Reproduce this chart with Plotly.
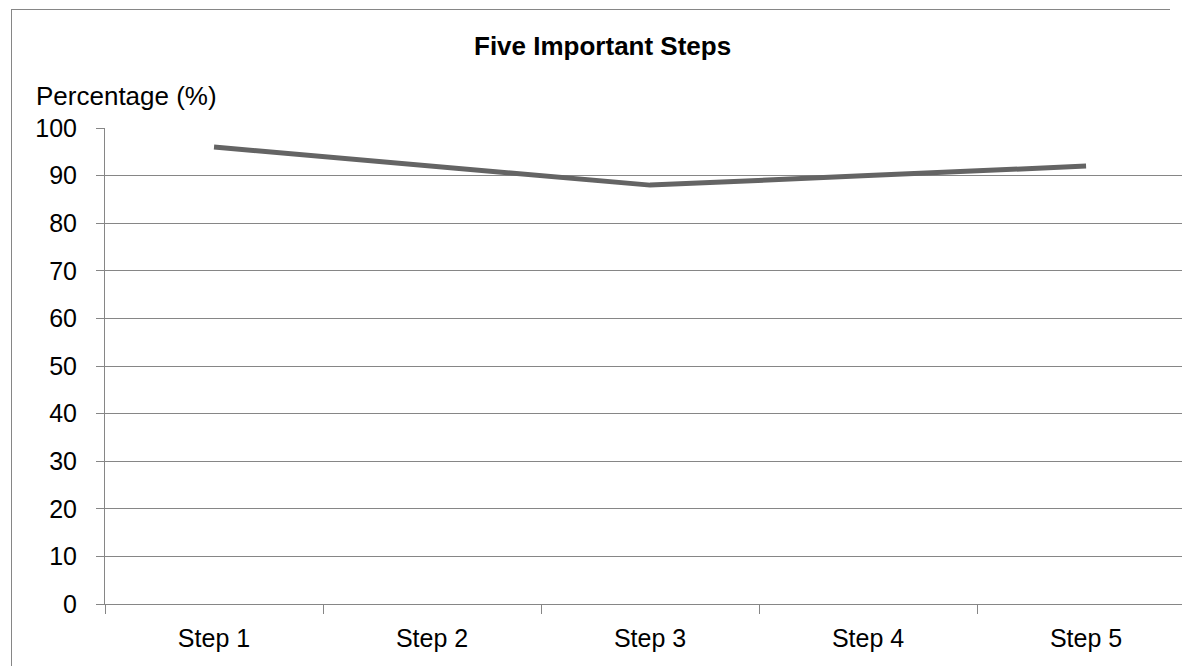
import plotly.graph_objects as go

# Chart data
steps = ["Step 1", "Step 2", "Step 3", "Step 4", "Step 5"]
percentages = [96, 92, 88, 90, 92]
y_ticks = [0, 10, 20, 30, 40, 50, 60, 70, 80, 90, 100]

W, H = 1182, 668
ML, MR, MT, MB = 105, 0, 128, 64
GRID = "#868686"
FONT = "Liberation Sans, Arial, sans-serif"

fig = go.Figure()
fig.add_trace(go.Scatter(
    x=steps, y=percentages, mode="lines",
    line=dict(color="#646464", width=5),
    showlegend=False, hoverinfo="x+y",
))

pw = W - ML - MR
ph = H - MT - MB


def px_to_paper_x(px):
    return (px - ML) / pw


def px_to_paper_y(py):
    return (H - MB - py) / ph


# Chart-area frame: top and left edges, kept inside the canvas
frame = [
    dict(type="line", xref="paper", yref="paper",
         x0=px_to_paper_x(11), x1=px_to_paper_x(W - 12),
         y0=px_to_paper_y(9.5), y1=px_to_paper_y(9.5),
         line=dict(color=GRID, width=1)),
    dict(type="line", xref="paper", yref="paper",
         x0=px_to_paper_x(11.5), x1=px_to_paper_x(11.5),
         y0=px_to_paper_y(9), y1=px_to_paper_y(H - 2),
         line=dict(color=GRID, width=1)),
]

fig.update_layout(
    width=W, height=H,
    margin=dict(l=ML, r=MR, t=MT, b=MB, pad=0, autoexpand=False),
    paper_bgcolor="white", plot_bgcolor="white",
    font=dict(family=FONT, size=25, color="black"),
    xaxis=dict(
        type="category", range=[-0.5, 4.44], automargin=False,
        showgrid=False, zeroline=False,
        showline=True, linecolor=GRID, linewidth=1,
        ticks="outside", ticklen=9, tickcolor=GRID, tickwidth=1,
        tickson="boundaries", ticklabelstandoff=12,
        tickfont=dict(family=FONT, size=25),
    ),
    yaxis=dict(
        range=[0, 100], tickvals=y_ticks, automargin=False,
        showgrid=True, gridcolor=GRID, gridwidth=1,
        zeroline=False,
        showline=True, linecolor=GRID, linewidth=1,
        ticks="outside", ticklen=8, tickcolor=GRID, tickwidth=1,
        ticklabelstandoff=14,
        tickfont=dict(family=FONT, size=25),
    ),
    shapes=frame,
    annotations=[
        dict(text="<b>Five Important Steps</b>", xref="paper", yref="paper",
             x=px_to_paper_x(602), y=px_to_paper_y(46),
             xanchor="center", yanchor="middle", showarrow=False,
             font=dict(family=FONT, size=26, color="black")),
        dict(text="Percentage (%)", xref="paper", yref="paper",
             x=px_to_paper_x(34), y=px_to_paper_y(96),
             xanchor="left", yanchor="middle", showarrow=False,
             font=dict(family=FONT, size=26, color="black")),
    ],
)

fig.write_html("out.html")
